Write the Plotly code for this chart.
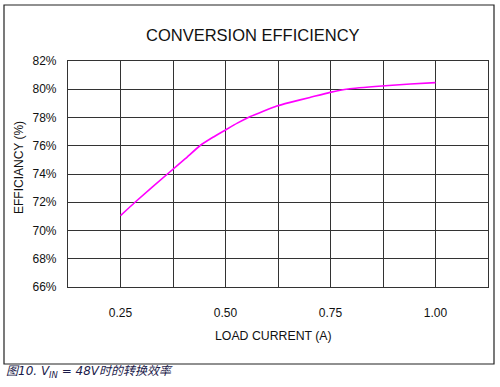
import plotly.graph_objects as go

load_current = [0.25, 0.2845, 0.368, 0.405, 0.439, 0.47, 0.499, 0.528, 0.558, 0.59, 0.622, 0.654, 0.701, 0.749, 0.792, 0.872, 0.94, 1.00]
efficiency = [71.05, 72.0, 74.16, 75.1, 76.0, 76.6, 77.1, 77.6, 78.06, 78.45, 78.81, 79.07, 79.42, 79.78, 80.02, 80.23, 80.37, 80.47]

x_tickvals = [0.25, 0.5, 0.75, 1.0]
x_ticktext = ["0.25", "0.50", "0.75", "1.00"]
y_tickvals = [66, 68, 70, 72, 74, 76, 78, 80, 82]
y_ticktext = ["66%", "68%", "70%", "72%", "74%", "76%", "78%", "80%", "82%"]

L, R, T, B = 68, 488, 61, 287
W, H = 500, 387
pw, ph = R - L, B - T

def px(x):
    return (x - L) / pw

def py(y):
    return (B - y) / ph

fig = go.Figure()
fig.add_trace(go.Scatter(x=load_current, y=efficiency, mode="lines",
                         line=dict(color="#ff00ff", width=1.6, shape="spline", smoothing=0.4),
                         hoverinfo="skip", showlegend=False))

grid = "#333333"
fig.update_layout(
    width=W, height=H,
    margin=dict(l=L, r=W - R, t=T, b=H - B, autoexpand=False),
    paper_bgcolor="white", plot_bgcolor="white",
    font=dict(family="Arial, Liberation Sans, sans-serif", color="#111111", size=12),
    xaxis=dict(range=[0.125, 1.125], tickvals=x_tickvals, ticktext=x_ticktext,
               showgrid=True, gridcolor=grid, gridwidth=1.2, zeroline=False,
               minor=dict(tick0=0.125, dtick=0.125, showgrid=True, gridcolor=grid, gridwidth=1.2, ticks=""),
               showline=True, linecolor=grid, linewidth=1.2, mirror=True,
               ticks="", ticklabelstandoff=14, tickfont=dict(size=12), automargin=False),
    yaxis=dict(range=[66, 82], tickvals=y_tickvals, ticktext=y_ticktext,
               showgrid=True, gridcolor=grid, gridwidth=1.2, zeroline=False,
               showline=True, linecolor=grid, linewidth=1.2, mirror=True,
               ticks="", ticklabelstandoff=8, tickfont=dict(size=12), automargin=False),
    shapes=[dict(type="rect", xref="paper", yref="paper",
                 x0=px(4), x1=px(494), y0=py(364), y1=py(5),
                 line=dict(color="#222222", width=1.2), fillcolor="rgba(0,0,0,0)", layer="below")],
    annotations=[
        dict(text="CONVERSION EFFICIENCY", xref="paper", yref="paper", x=px(253), y=py(35),
             showarrow=False, font=dict(size=16.5, color="#111111"), xanchor="center", yanchor="middle"),
        dict(text="LOAD CURRENT (A)", xref="paper", yref="paper", x=px(273), y=py(336),
             showarrow=False, font=dict(size=12.3, color="#111111"), xanchor="center", yanchor="middle"),
        dict(text="EFFICIANCY (%)", xref="paper", yref="paper", x=px(19), y=py(168),
             showarrow=False, textangle=-90, font=dict(size=12, color="#111111"),
             xanchor="center", yanchor="middle"),
        dict(text="<i>图10. V<sub>IN</sub> = 48V时的转换效率</i>", xref="paper", yref="paper",
             x=px(4), y=py(372), showarrow=False,
             font=dict(size=12, color="#1a1a4a", family="DejaVu Sans, Noto Sans CJK SC"),
             xanchor="left", yanchor="middle"),
    ],
)

fig.write_html("out.html", config={"displayModeBar": False},
               post_script="document.body.style.margin='0px';document.body.style.padding='0px';")
